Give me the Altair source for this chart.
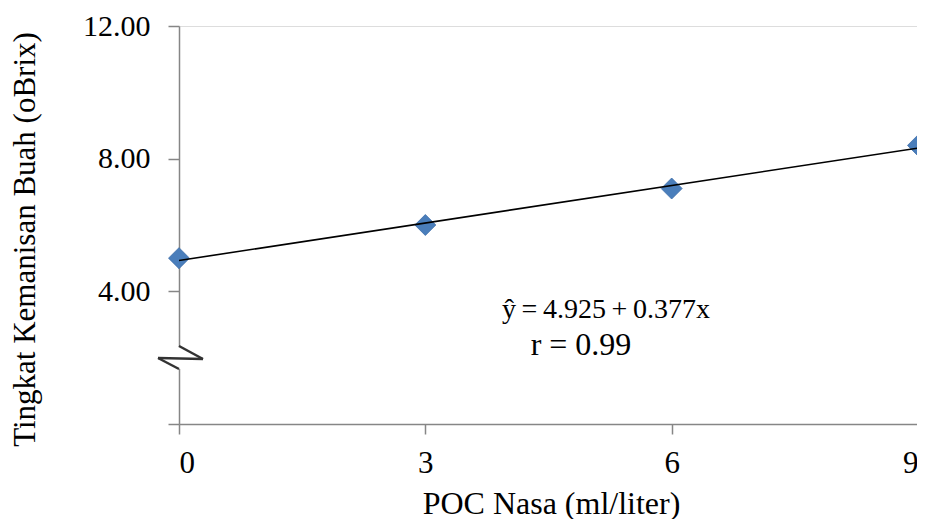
import altair as alt
import pandas as pd

# data
poc = [0, 3, 6, 9]
brix = [5.0, 6.0, 7.1, 8.4]
x_ticks = [0, 3, 6, 9]
y_ticks = [0, 4, 8, 12]
eq_text = "ŷ\u2009=\u20094.925\u2009+\u20090.377x"
r_text = "r = 0.99"

df = pd.DataFrame({"x": poc, "y": brix})

FONT = "Liberation Serif"
AX = "#868686"

xs = alt.X("x:Q", scale=alt.Scale(domain=[0, 9], nice=False),
           axis=alt.Axis(values=x_ticks, format="d", title="POC Nasa (ml/liter)",
                         grid=False, domainColor=AX, domainWidth=1.5, tickColor=AX,
                         tickWidth=1.5, tickSize=10, labelPadding=38,
                         labelBaseline="alphabetic",
                         labelFont=FONT, labelFontSize=31, labelColor="black",
                         titleFont=FONT, titleFontSize=32, titleFontWeight="normal",
                         titleColor="black", titleX=372, titleY=89,
                         titleBaseline="alphabetic", titleAlign="center"))
ys = alt.Y("y:Q", scale=alt.Scale(domain=[0, 12], nice=False),
           axis=alt.Axis(values=y_ticks,
                         labelExpr="datum.value == 0 ? '' : format(datum.value, '.2f')",
                         title="Tingkat Kemanisan Buah (oBrix)",
                         grid=False, domainColor=AX, domainWidth=1.5, tickColor=AX,
                         tickWidth=1.5, tickSize=11, labelPadding=18,
                         labelFont=FONT, labelFontSize=30, labelColor="black",
                         titleFont=FONT, titleFontSize=31, titleFontWeight="normal",
                         titleColor="black", titleAngle=-90, titleX=-145, titleY=213,
                         titleBaseline="alphabetic", titleAlign="center"))

base = alt.Chart(df)

points = base.mark_point(shape="diamond", filled=True, size=440, color="#4A7EBB",
                         stroke="#3C6CA8", strokeWidth=0.8, opacity=1).encode(x=xs, y=ys)

fit = base.transform_regression("x", "y", extent=[0, 9]).mark_line(
    color="black", strokeWidth=1.6).encode(x="x:Q", y="y:Q")

one = alt.Data(values=[{}])
txt1 = alt.Chart(one).mark_text(text=eq_text, font=FONT, fontSize=28, align="center",
                                baseline="alphabetic", color="black").encode(
    x=alt.value(427), y=alt.value(292))
txt2 = alt.Chart(one).mark_text(text=r_text, font=FONT, fontSize=32, align="center",
                                baseline="alphabetic", color="black").encode(
    x=alt.value(402), y=alt.value(329))

# axis break symbol
gap = alt.Chart(one).mark_rect(color="white").encode(
    x=alt.value(-24), x2=alt.value(40), y=alt.value(321), y2=alt.value(343))
BRK = "#333333"
seg1 = alt.Chart(one).mark_rule(color=BRK, strokeWidth=2.5).encode(
    x=alt.value(0), y=alt.value(320), x2=alt.value(24), y2=alt.value(333))
seg2 = alt.Chart(one).mark_rule(color=BRK, strokeWidth=2.5).encode(
    x=alt.value(-21), y=alt.value(332), x2=alt.value(24), y2=alt.value(333))
seg3 = alt.Chart(one).mark_rule(color=BRK, strokeWidth=2.5).encode(
    x=alt.value(-21), y=alt.value(332), x2=alt.value(0), y2=alt.value(343))

chart = alt.layer(points, fit, gap, seg1, seg2, seg3, txt1, txt2).properties(
    width=739, height=398,
    autosize=alt.AutoSizeParams(type="none"),
    padding={"left": 171, "top": 18, "right": -1, "bottom": 95},
).configure_view(stroke=None).configure(background="white")

chart.save("out.html", embed_options={"renderer": "svg", "actions": False})
